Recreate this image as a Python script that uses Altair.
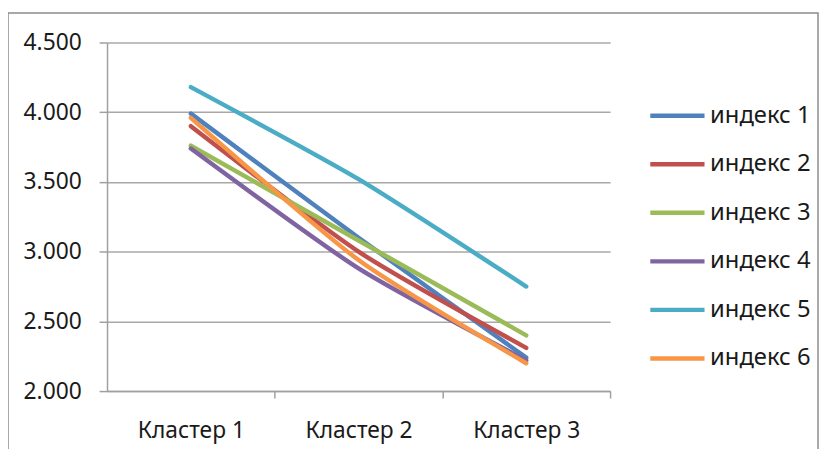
import altair as alt
import pandas as pd

categories = ["Кластер 1", "Кластер 2", "Кластер 3"]
series = ["индекс 1", "индекс 2", "индекс 3", "индекс 4", "индекс 5", "индекс 6"]
idx1 = [3.99, 3.10, 2.24]
idx2 = [3.90, 3.00, 2.31]
idx3 = [3.76, 3.08, 2.40]
idx4 = [3.74, 2.88, 2.22]
idx5 = [4.18, 3.52, 2.75]
idx6 = [3.96, 2.94, 2.20]
y_ticks = [2.0, 2.5, 3.0, 3.5, 4.0, 4.5]
colors = ["#4F81BD", "#C0504D", "#9BBB59", "#8064A2", "#4BACC6", "#F79646"]

rows = []
for s, vals in zip(series, [idx1, idx2, idx3, idx4, idx5, idx6]):
    for c, v in zip(categories, vals):
        rows.append({"cluster": c, "series": s, "value": v})
df = pd.DataFrame(rows)

W = 508
H = 352
half = W / 3 / 2
FONT = "Noto Sans"

lines = alt.Chart(df).mark_line(
    strokeWidth=4.5, interpolate="cardinal", tension=0.4, strokeCap="round"
).encode(
    x=alt.X(
        "cluster:N",
        sort=categories,
        scale=alt.Scale(type="point", padding=0.5),
        axis=alt.Axis(
            title=None, labelAngle=0, tickOffset=half, labelOffset=-half,
            grid=False, tickSize=7, tickColor="#a0a0a0", tickWidth=1.5,
            domainColor="#a0a0a0", domainWidth=1.5,
            labelFont=FONT, labelFontSize=23, labelColor="#1a1a1a",
            labelPadding=22,
        ),
    ),
    y=alt.Y(
        "value:Q",
        scale=alt.Scale(domain=[2, 4.5], nice=False, zero=False),
        axis=alt.Axis(
            title=None, values=y_ticks, format=".3f", grid=True,
            gridColor="#a8a8a8", gridWidth=1.5,
            tickSize=8, tickColor="#a0a0a0", tickWidth=1.5,
            domainColor="#a0a0a0", domainWidth=1.5,
            labelFont=FONT, labelFontSize=23, labelColor="#1a1a1a",
            labelPadding=18,
        ),
    ),
    color=alt.Color(
        "series:N",
        scale=alt.Scale(domain=series, range=colors),
        legend=alt.Legend(
            title=None, orient="none", legendX=546, legendY=44,
            symbolType="stroke", symbolStrokeWidth=4.5, symbolSize=3000,
            labelFont=FONT, labelFontSize=24, labelColor="#1a1a1a",
            labelOffset=3, rowPadding=7,
        ),
    ),
)

frame = alt.Chart(alt.Data(values=[{"a": 1}])).mark_rect(
    filled=False, stroke="#8c8c8c", strokeWidth=1.5
).encode(
    x=alt.value(-100), x2=alt.value(718), y=alt.value(-29.7), y2=alt.value(480)
)

chart = alt.layer(frame, lines).properties(
    width=W, height=H,
    autosize=alt.AutoSizeParams(type="none"),
    padding={"left": 100, "top": 32.7, "right": 212, "bottom": 56},
).configure_view(stroke=None)

chart.save("out.html", embed_options={"renderer": "svg", "actions": False})
